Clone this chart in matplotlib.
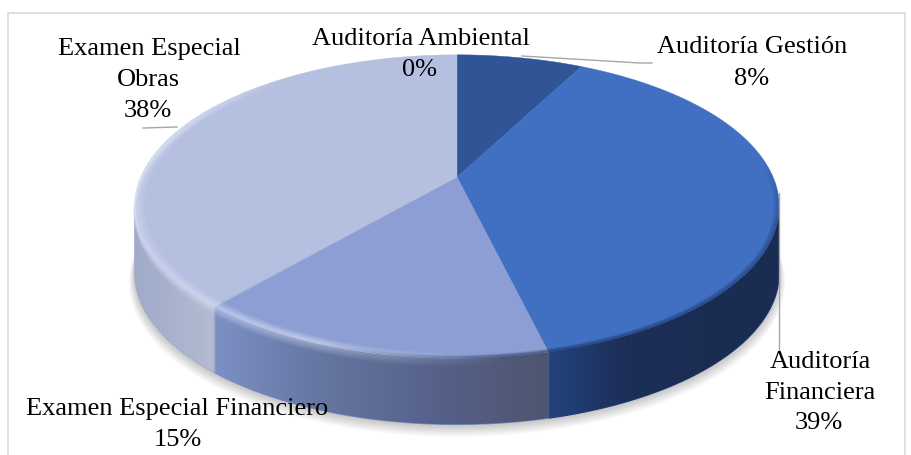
import numpy as np
import matplotlib
matplotlib.use("Agg")
import matplotlib.pyplot as plt
from matplotlib.patches import Polygon, Rectangle
from matplotlib.collections import LineCollection
from matplotlib.colors import to_rgb, LinearSegmentedColormap

categories = ["Auditoría Gestión", "Auditoría Financiera", "Examen Especial Financiero",
              "Auditoría Ambiental", "Examen Especial Obras"]
values = [7.6, 38.4, 15.0, 0.1, 38.4]
percent_labels = ["8%", "39%", "15%", "0%", "38%"]
top_colors = ["#2F5597", "#4170C2", "#8C9ED3", "#A9B5DA", "#B5BFDF"]
side_stops = [["#1F3864", "#1F3864"],
              ["#25437F", "#1C2F57", "#1B2D53", "#1A2C52"],
              ["#7D90C6", "#64759F", "#56618A", "#4E556F"],
              ["#A0ABC8", "#A0ABC8"],
              ["#9FABC9", "#B4BBD2"]]

# pie geometry (pixels)
VX, VY = 457.0, 177.0
SX, SY, P = 316.0, 146.0, 0.195
DEPTH, BOT = 66.0, 1.0
W, H = 912, 455

fig = plt.figure(figsize=(W / 100, H / 100), dpi=100)
ax = fig.add_axes([0, 0, 1, 1])
ax.set_xlim(0, W); ax.set_ylim(H, 0); ax.axis("off")
plt.rcParams["font.family"] = ["Liberation Serif", "DejaVu Serif"]

ax.add_patch(Rectangle((8, 13), 897, 460, fc="white", ec="#D9D9D9", lw=1.2, zorder=0))


def rim(theta_deg, scale=1.0, dy=0.0):
    t = np.radians(theta_deg)
    d = 1 + P * np.cos(t)
    return (VX + scale * SX * np.sin(t) / d, VY - scale * SY * np.cos(t) / d + dy)


fractions = np.cumsum([0] + values) / sum(values) * 360
all_t = np.linspace(0, 360, 721)

# soft shadow below the disc
for i in range(10):
    x, y = rim(all_t, BOT + 0.002 * i, DEPTH + 1.0 + 0.9 * i)
    ax.add_patch(Polygon(np.c_[x, y], fc="black", ec="none", alpha=0.022, zorder=1))

# side walls (only the part between the silhouette tangents is visible)
for k, stops in enumerate(side_stops):
    a, b = max(fractions[k], 100), min(fractions[k + 1], 260)
    if b <= a:
        continue
    t = np.linspace(a, b, 160)
    xt, yt = rim(t)
    xb, yb = rim(t[::-1], BOT, DEPTH)
    pts = np.c_[np.r_[xt, xb], np.r_[yt, yb]]
    # underlay closes the hairline gaps between neighbouring walls
    ax.add_patch(Polygon(pts, fc=stops[len(stops) // 2], ec=stops[0], lw=1.0, zorder=1.5))
    cmap = LinearSegmentedColormap.from_list("s%d" % k, stops)
    x0, x1 = pts[:, 0].min(), pts[:, 0].max()
    if x1 - x0 < 1:
        x1 = x0 + 1
    grad = np.linspace(0, 1, 256)[None, :]
    im = ax.imshow(grad, cmap=cmap, extent=[x0, x1, yb.max() + 2, yt.min() - 2],
                   aspect="auto", zorder=2, interpolation="bilinear")
    clip = Polygon(pts, transform=ax.transData, fc="none", ec="none")
    ax.add_patch(clip)
    im.set_clip_path(clip)
ax.set_xlim(0, W); ax.set_ylim(H, 0)

# top faces
for k, c in enumerate(top_colors):
    t = np.linspace(fractions[k], fractions[k + 1], 200)
    x, y = rim(t)
    ax.add_patch(Polygon(np.r_[[[VX, VY]], np.c_[x, y]], fc=c, ec=c, lw=0.3, zorder=3))


# bevel: light on the lower left, dark blur on the lower right
t = np.linspace(60, 335, 900)
mid = (t[:-1] + t[1:]) / 2
li = np.clip((mid - 172) / 30, 0, 1) * np.clip((325 - mid) / 40, 0, 1)
da = np.clip((mid - 85) / 25, 0, 1) * np.clip((200 - mid) / 25, 0, 1)


def stroke(scale, dy, color, alpha):
    x, y = rim(t, scale, dy)
    p = np.c_[x, y]
    segs = np.stack([p[:-1], p[1:]], axis=1)
    rgba = np.zeros((len(segs), 4))
    rgba[:, :3] = to_rgb(color)
    rgba[:, 3] = alpha
    ax.add_collection(LineCollection(segs, colors=rgba, linewidths=1.6, zorder=4, capstyle="butt"))


for f in np.linspace(0.04, 1, 9):               # inside the rim, on the top face
    stroke(1 - 0.035 * f, 0, "#E4ECFF", li * (0.28 * (1 - f) + 0.02))
    if f < 0.4:
        stroke(1 - 0.035 * f, 0, "#14264A", da * 0.3 * (1 - f) ** 2)
for f in np.linspace(0.1, 1, 7):                # below the rim, on the wall
    stroke(1, 9 * f, "#E4ECFF", li * (0.28 * (1 - f) + 0.01))

# leaders
leaders = [([522, 640, 652], [56, 63, 63]), ([143, 177], [128, 127]), ([779, 779], [193, 350])]
for lx, ly in leaders:
    ax.plot(lx, ly, color="#A6A6A6", lw=1.0, zorder=5)

# labels, one line at a time (centre x, baseline y)
labels = [("Auditoría Ambiental", 421, 45), (percent_labels[3], 420, 76),
          ("Auditoría Gestión", 752, 53), (percent_labels[0], 752, 85),
          ("Examen Especial", 149, 55), ("Obras", 148, 86), (percent_labels[4], 148, 117),
          ("Auditoría", 820, 368), ("Financiera", 820, 399), (percent_labels[1], 819, 429),
          ("Examen Especial Financiero", 177, 415), (percent_labels[2], 178, 446)]
for txt, x, y in labels:
    ax.text(x, y, txt, ha="center", va="baseline", fontsize=19, color="black",
            zorder=6, family=["Liberation Serif", "DejaVu Serif"])

fig.savefig("out.png", dpi=100)
